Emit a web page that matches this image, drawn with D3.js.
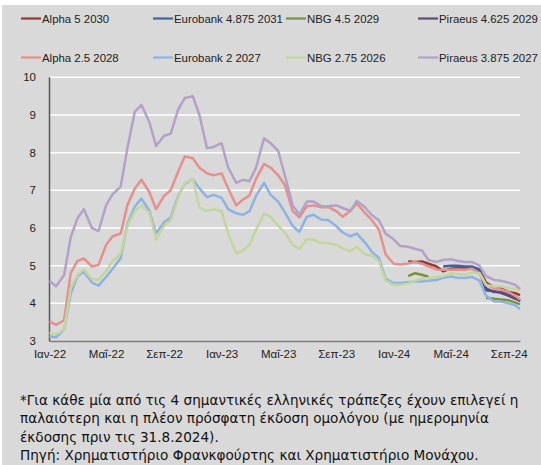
<!DOCTYPE html>
<html>
<head>
<meta charset="utf-8">
<script src="https://cdn.jsdelivr.net/npm/d3@7"></script>
<style>
  body { margin: 0; background: #fff; }
  svg { display: block; }
</style>
</head>
<body>
<div id="plot"></div>
<script>
// Greek bank bond yields (%), semi-monthly readings, Jan 2022 - Sep 2024

// x grid: 1st and 15th of each month, then a last reading on 25 Sep 2024
const dates = [];
for (let y = 2022; y <= 2024; y++) {
  for (let m = 0; m < 12; m++) {
    for (const day of [1, 15]) {
      const d = new Date(y, m, day);
      if (d <= new Date(2024, 8, 15)) dates.push(d);
    }
  }
}
dates.push(new Date(2024, 8, 25));

const tickDates = ['2022-01-01', '2022-05-01', '2022-09-01', '2023-01-01', '2023-05-01', '2023-09-01', '2024-01-01', '2024-05-01', '2024-09-01'];
const tickLabels = ['Ιαν-22', 'Μαΐ-22', 'Σεπ-22', 'Ιαν-23', 'Μαΐ-23', 'Σεπ-23', 'Ιαν-24', 'Μαΐ-24', 'Σεπ-24'];
const yTicks = [3, 4, 5, 6, 7, 8, 9, 10];

// older issues, full period
const alpha25 = [3.52, 3.43, 3.55, 4.8, 5.12, 5.19, 4.98, 5.02, 5.55, 5.78, 5.85, 6.6, 7.05, 7.28, 6.95, 6.5, 6.85, 7.0, 7.5, 7.9, 7.85, 7.6, 7.45, 7.4, 7.45, 7.05, 6.6, 6.75, 6.86, 7.3, 7.7, 7.6, 7.4, 7.15, 6.45, 6.28, 6.58, 6.6, 6.55, 6.56, 6.45, 6.3, 6.45, 6.65, 6.4, 6.22, 5.95, 5.3, 5.05, 5.03, 5.06, 5.1, 5.05, 4.98, 4.9, 4.89, 4.89, 4.9, 4.89, 4.92, 4.8, 4.5, 4.4, 4.37, 4.3, 4.2, 4.1];
const eurobank2 = [3.12, 3.1, 3.3, 4.25, 4.72, 4.84, 4.55, 4.47, 4.7, 4.92, 5.2, 6.1, 6.57, 6.78, 6.45, 5.86, 6.15, 6.28, 6.85, 7.17, 7.3, 7.05, 6.82, 6.88, 6.8, 6.5, 6.39, 6.35, 6.44, 6.85, 7.2, 6.88, 6.7, 6.42, 6.05, 5.9, 6.3, 6.35, 6.22, 6.21, 6.05, 5.88, 5.78, 5.85, 5.62, 5.38, 5.2, 4.65, 4.54, 4.54, 4.56, 4.58, 4.58, 4.6, 4.62, 4.68, 4.71, 4.68, 4.67, 4.7, 4.6, 4.2, 4.05, 4.05, 4.0, 3.95, 3.85];
const nbg275 = [3.21, 3.18, 3.3, 4.4, 4.75, 4.9, 4.65, 4.62, 4.85, 5.12, 5.32, 6.05, 6.45, 6.6, 6.4, 5.7, 6.05, 6.2, 6.8, 7.2, 7.3, 6.55, 6.45, 6.5, 6.45, 5.85, 5.33, 5.4, 5.55, 5.95, 6.38, 6.3, 6.06, 5.88, 5.55, 5.45, 5.7, 5.68, 5.6, 5.6, 5.55, 5.46, 5.38, 5.5, 5.3, 5.27, 5.12, 4.6, 4.49, 4.49, 4.52, 4.6, 4.65, 4.67, 4.7, 4.72, 4.8, 4.78, 4.76, 4.82, 4.8, 4.48, 4.45, 4.45, 4.4, 4.38, 4.36];
const piraeus3875 = [4.6, 4.45, 4.75, 5.75, 6.25, 6.5, 6.0, 5.92, 6.6, 6.9, 7.1, 8.1, 9.09, 9.27, 8.8, 8.18, 8.45, 8.5, 9.15, 9.45, 9.5, 9.0, 8.12, 8.15, 8.25, 7.6, 7.2, 7.28, 7.24, 7.6, 8.38, 8.25, 8.05, 7.4, 6.6, 6.35, 6.7, 6.7, 6.58, 6.58, 6.6, 6.53, 6.45, 6.72, 6.55, 6.35, 6.2, 5.85, 5.7, 5.52, 5.5, 5.45, 5.4, 5.15, 5.1, 5.15, 5.17, 5.13, 5.1, 5.1, 5.0, 4.72, 4.62, 4.6, 4.55, 4.49, 4.38];

// newer issues, from their first reading
const alpha5Start = '2024-02-01';
const alpha5 = [5.11, 5.1, 5.11, 5.05, 4.98, 4.85, 4.92, 4.93, 4.93, 4.93, 4.88, 4.55, 4.42, 4.4, 4.3, 4.27, 4.22];
const eurobank4875Start = '2024-04-15';
const eurobank4875 = [4.98, 5.0, 5.0, 4.98, 4.98, 4.9, 4.4, 4.3, 4.3, 4.22, 4.18, 4.05];
const nbg45Start = '2024-02-01';
const nbg45 = [4.72, 4.8, 4.76, 4.7, null, null, null, null, null, null, null, 4.15, 4.12, 4.1, 4.08, 4.02, 3.98];
const piraeus4625Start = '2024-07-01';
const piraeus4625 = [4.85, 4.35, 4.32, 4.28, 4.2, 4.12, 4.08];

const seriesNames = ['Alpha 5 2030', 'Eurobank 4.875 2031', 'NBG 4.5 2029', 'Piraeus 4.625 2029', 'Alpha 2.5 2028', 'Eurobank 2 2027', 'NBG 2.75 2026', 'Piraeus 3.875 2027'];
const seriesColors = ['#953735', '#3c64a0', '#77933c', '#604a7b', '#e6908e', '#8db3e2', '#c3d69b', '#b3a2c7'];

const footnotes = [
  '*Για κάθε μία από τις 4 σημαντικές ελληνικές τράπεζες έχουν επιλεγεί η',
  'παλαιότερη και η πλέον πρόσφατη έκδοση ομολόγου (με ημερομηνία',
  'έκδοσης πριν τις 31.8.2024).',
  'Πηγή: Χρηματιστήριο Φρανκφούρτης και Χρηματιστήριο Μονάχου.'
];

const parse = d3.timeParse('%Y-%m-%d');
function fromStart(start, values) {
  const s = parse(start).getTime();
  const i0 = dates.findIndex((d) => d.getTime() === s);
  return values.map((v, i) => ({ date: dates[i0 + i], value: v }));
}
function full(values) {
  return values.map((v, i) => ({ date: dates[i], value: v }));
}

const seriesData = [
  fromStart(alpha5Start, alpha5),
  fromStart(eurobank4875Start, eurobank4875),
  fromStart(nbg45Start, nbg45),
  fromStart(piraeus4625Start, piraeus4625),
  full(alpha25),
  full(eurobank2),
  full(nbg275),
  full(piraeus3875)
];

const W = 541, H = 465;
const font = "'Liberation Sans', Arial, sans-serif";

const svg = d3.select('#plot').append('svg').attr('width', W).attr('height', H);

svg.append('rect').attr('x', 2).attr('y', 5).attr('width', W - 2).attr('height', H - 5).attr('fill', '#d9d9d9');

const x = d3.scaleTime().domain([dates[0], dates[dates.length - 1]]).range([49.5, 520]);
const y = d3.scaleLinear().domain([3, 10]).range([341, 77.3]);

// grid
svg.append('g')
  .selectAll('line')
  .data(yTicks.filter((t) => t > 3))
  .enter()
  .append('line')
  .attr('x1', 49.5).attr('x2', 520)
  .attr('y1', (d) => y(d)).attr('y2', (d) => y(d))
  .attr('stroke', '#ffffff').attr('stroke-width', 1.5);

// y labels
svg.append('g')
  .selectAll('text')
  .data(yTicks)
  .enter()
  .append('text')
  .attr('x', 36).attr('y', (d) => y(d)).attr('dy', '0.35em')
  .attr('text-anchor', 'end')
  .style('font-family', font).style('font-size', '11.5px').style('fill', '#222')
  .text((d) => d);

// x axis
const xAxis = d3.axisBottom(x)
  .tickValues(tickDates.map(parse))
  .tickFormat((d, i) => tickLabels[i])
  .tickSize(0)
  .tickPadding(9);
const gx = svg.append('g').attr('transform', 'translate(0,341)').call(xAxis);
gx.select('.domain').attr('stroke', '#7f7f7f').attr('stroke-width', 1.5);
gx.selectAll('text').style('font-family', font).style('font-size', '11.5px').style('fill', '#222');

// y axis line
svg.append('line').attr('x1', 49.5).attr('x2', 49.5).attr('y1', y(10)).attr('y2', 341.5)
  .attr('stroke', '#595959').attr('stroke-width', 1.5);

// lines
const line = d3.line()
  .defined((d) => d.value !== null)
  .x((d) => x(d.date))
  .y((d) => y(d.value));

svg.append('g')
  .selectAll('path')
  .data(seriesData)
  .enter()
  .append('path')
  .attr('d', line)
  .attr('fill', 'none')
  .attr('stroke', (d, i) => seriesColors[i])
  .attr('stroke-width', 2.5)
  .attr('stroke-linejoin', 'round');

// legend
const legX = [21, 153, 286, 418];
const legY = [18.5, 57.5];
const leg = svg.append('g')
  .selectAll('g')
  .data(seriesNames)
  .enter()
  .append('g')
  .attr('transform', (d, i) => `translate(${legX[i % 4]},${legY[Math.floor(i / 4)]})`);
leg.append('line').attr('x1', 0).attr('x2', 20).attr('stroke', (d, i) => seriesColors[i]).attr('stroke-width', 2.2);
leg.append('text').attr('x', 21).attr('dy', '0.35em')
  .style('font-family', font).style('font-size', '11.4px').style('fill', '#222')
  .text((d) => d);

// footnote
svg.append('g')
  .selectAll('text')
  .data(footnotes)
  .enter()
  .append('text')
  .attr('x', 20).attr('y', (d, i) => 405 + i * 18.3)
  .style('font-family', "'DejaVu Sans', Verdana, sans-serif").style('font-size', '13.6px').style('fill', '#111')
  .text((d) => d);
</script>
</body>
</html>
